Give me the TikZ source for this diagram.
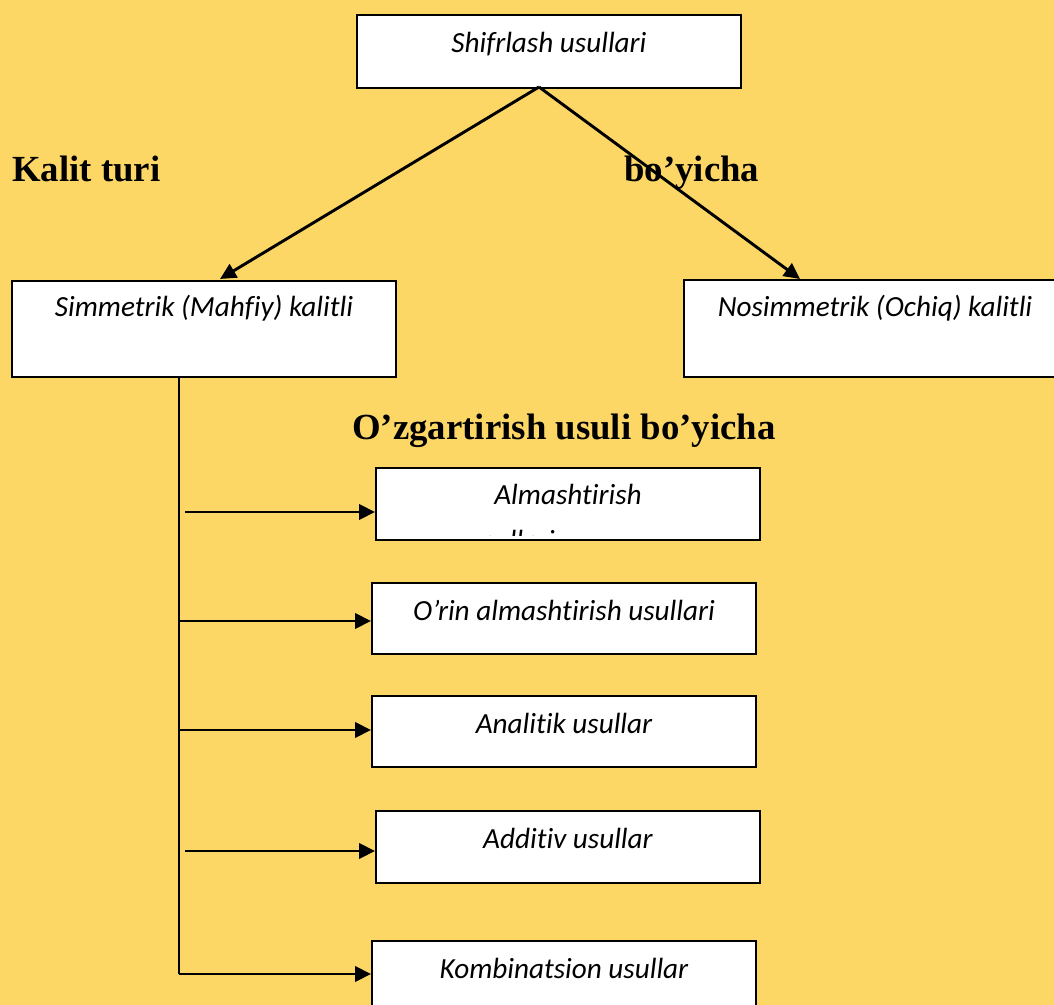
\documentclass[tikz,border=0pt]{standalone}
\usepackage{fontspec}
\setmainfont{Liberation Serif}
\newfontfamily\boxfont[Ligatures={NoCommon}]{Carlito}
\usetikzlibrary{arrows.meta,calc}
\definecolor{paper}{HTML}{FDD766}
\tikzset{
  box/.style={draw=black, line width=1.5pt, fill=white, rectangle, inner sep=0pt,
              minimum width=288pt, anchor=north west},
  lbl/.style={font=\boxfont\itshape\fontsize{21.9pt}{26pt}\selectfont, inner sep=0pt, anchor=base},
  head/.style={font=\bfseries\fontsize{27.6pt}{32pt}\selectfont, inner sep=0pt, anchor=base west},
  link/.style={line width=2.2pt},
  arrow/.style={link, -{Triangle[length=12pt,width=11.5pt]}}
}
\begin{document}
\begin{tikzpicture}[x=0.75pt, y=-0.75pt]
  % page and background
  \useasboundingbox (0,0) rectangle (1054,1005);
  \clip (0,0) rectangle (1054,1005);
  \fill[paper] (0,0) rectangle (1054,1005);

  % boxes
  \node[box, minimum height=54.75pt] (root) at (356,14) {};
  \node[box, minimum height=72pt]    (sym)  at (11,280) {};
  \node[box, minimum height=72.75pt] (asym) at (683,279) {};
  \node[box, minimum height=54pt]    (m1)   at (375,467) {};
  \node[box, minimum height=53.25pt] (m2)   at (371,582) {};
  \node[box, minimum height=53.25pt] (m3)   at (371,695) {};
  \node[box, minimum height=54pt]    (m4)   at (375,810) {};
  \node[box, minimum height=54pt]    (m5)   at (371,940) {};

  % box texts
  \node[lbl] (troot) at ($(root.north)+(0,39)$) {Shifrlash usullari};
  \node[lbl] (tsym)  at ($(sym.north)+(0,37)$)  {Simmetrik (Mahfiy) kalitli};
  \node[lbl] (tasym) at (875,317)               {Nosimmetrik (Ochiq) kalitli};
  \node[lbl] (tm1)   at ($(m1.north)+(0,38)$)   {Almashtirish};
  \begin{scope}
    \clip (376.5,468.5) rectangle (757.5,536);
    \node[lbl, anchor=base west] (tm1b) at (468,551) {usullari};
  \end{scope}
  \node[lbl] (tm2)   at ($(m2.north)+(0,38)$)   {O’rin almashtirish usullari};
  \node[lbl] (tm3)   at ($(m3.north)+(0,38)$)   {Analitik usullar};
  \node[lbl] (tm4)   at ($(m4.north)+(0,38)$)   {Additiv usullar};
  \node[lbl] (tm5)   at ($(m5.north)+(0,38)$)   {Kombinatsion usullar};

  % headings
  \node[head] (hkey)  at (12,182)  {Kalit turi};
  \node[head] (hby)   at (624,182) {bo’yicha};
  \node[head] (hconv) at (352,440) {O’zgartirish usuli bo’yicha};

  % tree connectors
  \coordinate (apex) at (539,87);
  \draw[arrow] (apex) -- (220,279);
  \draw[arrow] (apex) -- (800,279);

  % vertical trunk and branches
  \coordinate (trunk) at (179,376);
  \coordinate (corner) at (179,974);
  \draw[link] (trunk) -- (corner);
  \coordinate (s1) at (185,512);
  \coordinate (s2) at (179,621);
  \coordinate (s3) at (179,730);
  \coordinate (s4) at (185,851);
  \draw[arrow] (s1) -- (s1 -| m1.west);
  \draw[arrow] (s2) -- (s2 -| m2.west);
  \draw[arrow] (s3) -- (s3 -| m3.west);
  \draw[arrow] (s4) -- (s4 -| m4.west);
  \draw[arrow] (corner) -- (corner -| m5.west);
\end{tikzpicture}
\end{document}
